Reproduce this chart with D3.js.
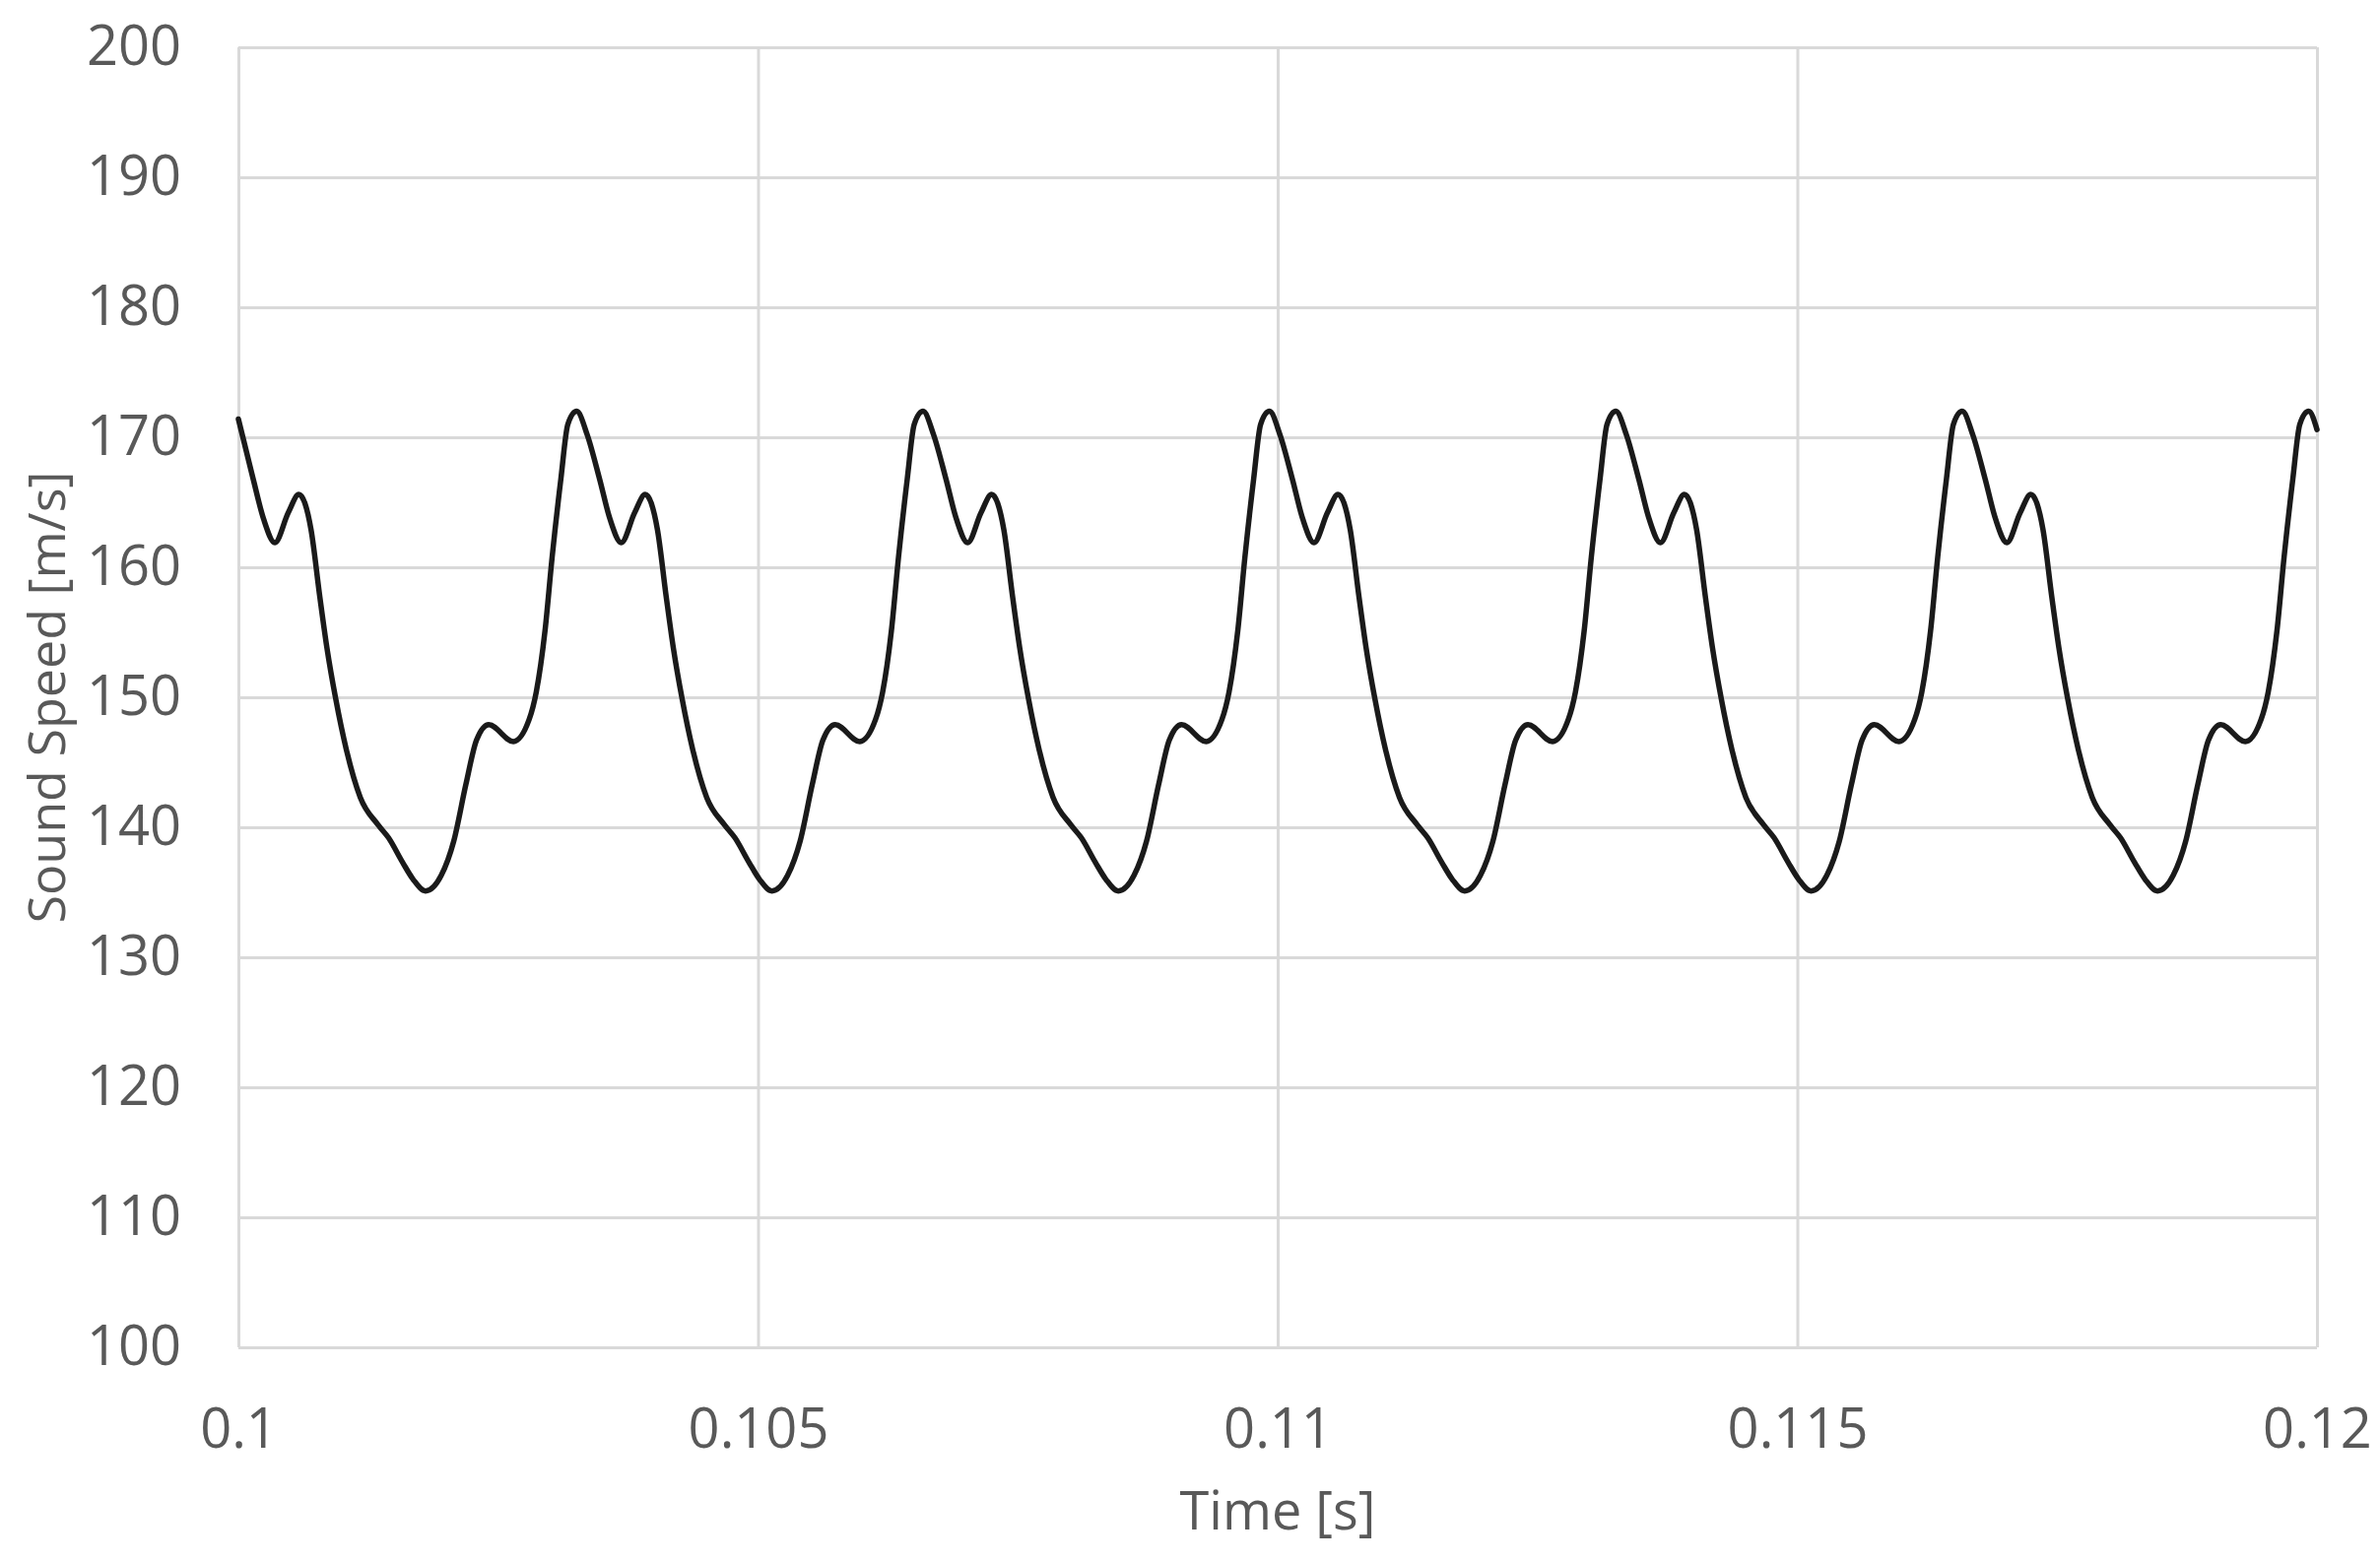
<!DOCTYPE html>
<html>
<head>
<meta charset="utf-8">
<script src="https://cdn.jsdelivr.net/npm/d3@7"></script>
<style>
  html, body { margin: 0; padding: 0; background: #ffffff; }
  svg { display: block; }
</style>
</head>
<body>
<svg id="chart" width="2416" height="1586"></svg>
<script>
// ---------- data ----------
const xTicks = [0.1, 0.105, 0.11, 0.115, 0.12];
const xTickLabels = ["0.1", "0.105", "0.11", "0.115", "0.12"];
const yTicks = [100, 110, 120, 130, 140, 150, 160, 170, 180, 190, 200];
const xTitle = "Time [s]";
const yTitle = "Sound Speed [m/s]";

const time = [
  0.100000, 0.100142, 0.100243, 0.100351, 0.100480, 0.100582, 0.100699, 0.100784, 0.100852, 0.100936,
  0.101038, 0.101173, 0.101343, 0.101444, 0.101580, 0.101681, 0.101800, 0.101952, 0.102071, 0.102189,
  0.102291, 0.102409, 0.102646, 0.102798, 0.102866, 0.102950, 0.103019, 0.103103, 0.103170, 0.103255,
  0.103356, 0.103475, 0.103576, 0.103684, 0.103813, 0.103915, 0.104032, 0.104117, 0.104185, 0.104269,
  0.104371, 0.104506, 0.104676, 0.104777, 0.104913, 0.105014, 0.105133, 0.105285, 0.105404, 0.105522,
  0.105624, 0.105742, 0.105979, 0.106131, 0.106199, 0.106283, 0.106352, 0.106436, 0.106503, 0.106588,
  0.106689, 0.106808, 0.106909, 0.107017, 0.107146, 0.107248, 0.107365, 0.107450, 0.107518, 0.107602,
  0.107704, 0.107839, 0.108009, 0.108110, 0.108246, 0.108347, 0.108466, 0.108618, 0.108737, 0.108855,
  0.108957, 0.109075, 0.109312, 0.109464, 0.109532, 0.109616, 0.109685, 0.109769, 0.109836, 0.109921,
  0.110022, 0.110141, 0.110242, 0.110350, 0.110479, 0.110581, 0.110698, 0.110783, 0.110851, 0.110935,
  0.111037, 0.111172, 0.111342, 0.111443, 0.111579, 0.111680, 0.111799, 0.111951, 0.112070, 0.112188,
  0.112290, 0.112408, 0.112645, 0.112797, 0.112865, 0.112949, 0.113018, 0.113102, 0.113169, 0.113254,
  0.113355, 0.113474, 0.113575, 0.113683, 0.113812, 0.113914, 0.114031, 0.114116, 0.114184, 0.114268,
  0.114370, 0.114505, 0.114675, 0.114776, 0.114912, 0.115013, 0.115132, 0.115284, 0.115403, 0.115521,
  0.115623, 0.115741, 0.115978, 0.116130, 0.116198, 0.116282, 0.116351, 0.116435, 0.116502, 0.116587,
  0.116688, 0.116807, 0.116908, 0.117016, 0.117145, 0.117247, 0.117364, 0.117449, 0.117517, 0.117601,
  0.117703, 0.117838, 0.118008, 0.118109, 0.118245, 0.118346, 0.118465, 0.118617, 0.118736, 0.118854,
  0.118956, 0.119074, 0.119311, 0.119463, 0.119531, 0.119615, 0.119684, 0.119768, 0.119835, 0.119920,
  0.120000
];

const soundSpeed = [
  171.4, 166.8, 163.7, 161.9, 164.2, 165.6, 162.9, 157.7, 153.8, 149.9,
  146.0, 142.3, 140.2, 139.2, 137.3, 136.0, 135.1, 136.3, 138.9, 143.3,
  146.7, 147.9, 146.6, 148.3, 150.4, 155.1, 160.8, 166.8, 171.0, 172.0,
  170.2, 166.8, 163.7, 161.9, 164.2, 165.6, 162.9, 157.7, 153.8, 149.9,
  146.0, 142.3, 140.2, 139.2, 137.3, 136.0, 135.1, 136.3, 138.9, 143.3,
  146.7, 147.9, 146.6, 148.3, 150.4, 155.1, 160.8, 166.8, 171.0, 172.0,
  170.2, 166.8, 163.7, 161.9, 164.2, 165.6, 162.9, 157.7, 153.8, 149.9,
  146.0, 142.3, 140.2, 139.2, 137.3, 136.0, 135.1, 136.3, 138.9, 143.3,
  146.7, 147.9, 146.6, 148.3, 150.4, 155.1, 160.8, 166.8, 171.0, 172.0,
  170.2, 166.8, 163.7, 161.9, 164.2, 165.6, 162.9, 157.7, 153.8, 149.9,
  146.0, 142.3, 140.2, 139.2, 137.3, 136.0, 135.1, 136.3, 138.9, 143.3,
  146.7, 147.9, 146.6, 148.3, 150.4, 155.1, 160.8, 166.8, 171.0, 172.0,
  170.2, 166.8, 163.7, 161.9, 164.2, 165.6, 162.9, 157.7, 153.8, 149.9,
  146.0, 142.3, 140.2, 139.2, 137.3, 136.0, 135.1, 136.3, 138.9, 143.3,
  146.7, 147.9, 146.6, 148.3, 150.4, 155.1, 160.8, 166.8, 171.0, 172.0,
  170.2, 166.8, 163.7, 161.9, 164.2, 165.6, 162.9, 157.7, 153.8, 149.9,
  146.0, 142.3, 140.2, 139.2, 137.3, 136.0, 135.1, 136.3, 138.9, 143.3,
  146.7, 147.9, 146.6, 148.3, 150.4, 155.1, 160.8, 166.8, 171.0, 172.0,
  170.6
];

// ---------- layout ----------
const W = 2416, H = 1586;
const margin = { left: 242, right: W - 2352, top: 48, bottom: H - 1368 };
const plotW = W - margin.left - margin.right;
const plotH = H - margin.top - margin.bottom;

const svg = d3.select("#chart");
svg.append("rect").attr("width", W).attr("height", H).attr("fill", "#ffffff");

const x = d3.scaleLinear().domain([0.1, 0.12]).range([0, plotW]);
const y = d3.scaleLinear().domain([100, 200]).range([plotH, 0]);

const g = svg.append("g").attr("transform", `translate(${margin.left},${margin.top})`);

const font = "'Open Sans', 'Noto Sans', sans-serif";
const textColor = "#595959";
const gridColor = "#d9d9d9";

// horizontal gridlines + y tick labels
const yAxis = d3.axisLeft(y)
  .tickValues(yTicks)
  .tickSize(-plotW)
  .tickPadding(58)
  .tickFormat(d3.format("d"));
const yG = g.append("g").call(yAxis);
yG.select(".domain").remove();
yG.selectAll(".tick line").attr("stroke", gridColor).attr("stroke-width", 3);
yG.selectAll(".tick text")
  .attr("fill", textColor)
  .style("font-family", font)
  .style("font-size", "56px");

// vertical gridlines + x tick labels
const xAxis = d3.axisBottom(x)
  .tickValues(xTicks)
  .tickSize(-plotH)
  .tickPadding(0)
  .tickFormat((d, i) => xTickLabels[i]);
const xG = g.append("g").attr("transform", `translate(0,${plotH})`).call(xAxis);
xG.select(".domain").remove();
xG.selectAll(".tick line").attr("stroke", gridColor).attr("stroke-width", 3);
xG.selectAll(".tick text")
  .attr("fill", textColor)
  .attr("y", 102)
  .attr("dy", 0)
  .style("font-family", font)
  .style("font-size", "56px");

// series line
const data = time.map((t, i) => ({ t, v: soundSpeed[i] }));
const line = d3.line()
  .x(d => x(d.t))
  .y(d => y(d.v))
  .curve(d3.curveMonotoneX);

g.append("path")
  .datum(data)
  .attr("fill", "none")
  .attr("stroke", "#1a1a1a")
  .attr("stroke-width", 5.5)
  .attr("stroke-linejoin", "round")
  .attr("stroke-linecap", "round")
  .attr("d", line);

// axis titles
svg.append("text")
  .attr("x", margin.left + plotW / 2)
  .attr("y", 1553)
  .attr("text-anchor", "middle")
  .attr("fill", textColor)
  .style("font-family", font)
  .style("font-size", "54px")
  .text(xTitle);

svg.append("text")
  .attr("transform", `translate(66,${margin.top + plotH / 2}) rotate(-90)`)
  .attr("text-anchor", "middle")
  .attr("fill", textColor)
  .style("font-family", font)
  .style("font-size", "52px")
  .text(yTitle);
</script>
</body>
</html>
